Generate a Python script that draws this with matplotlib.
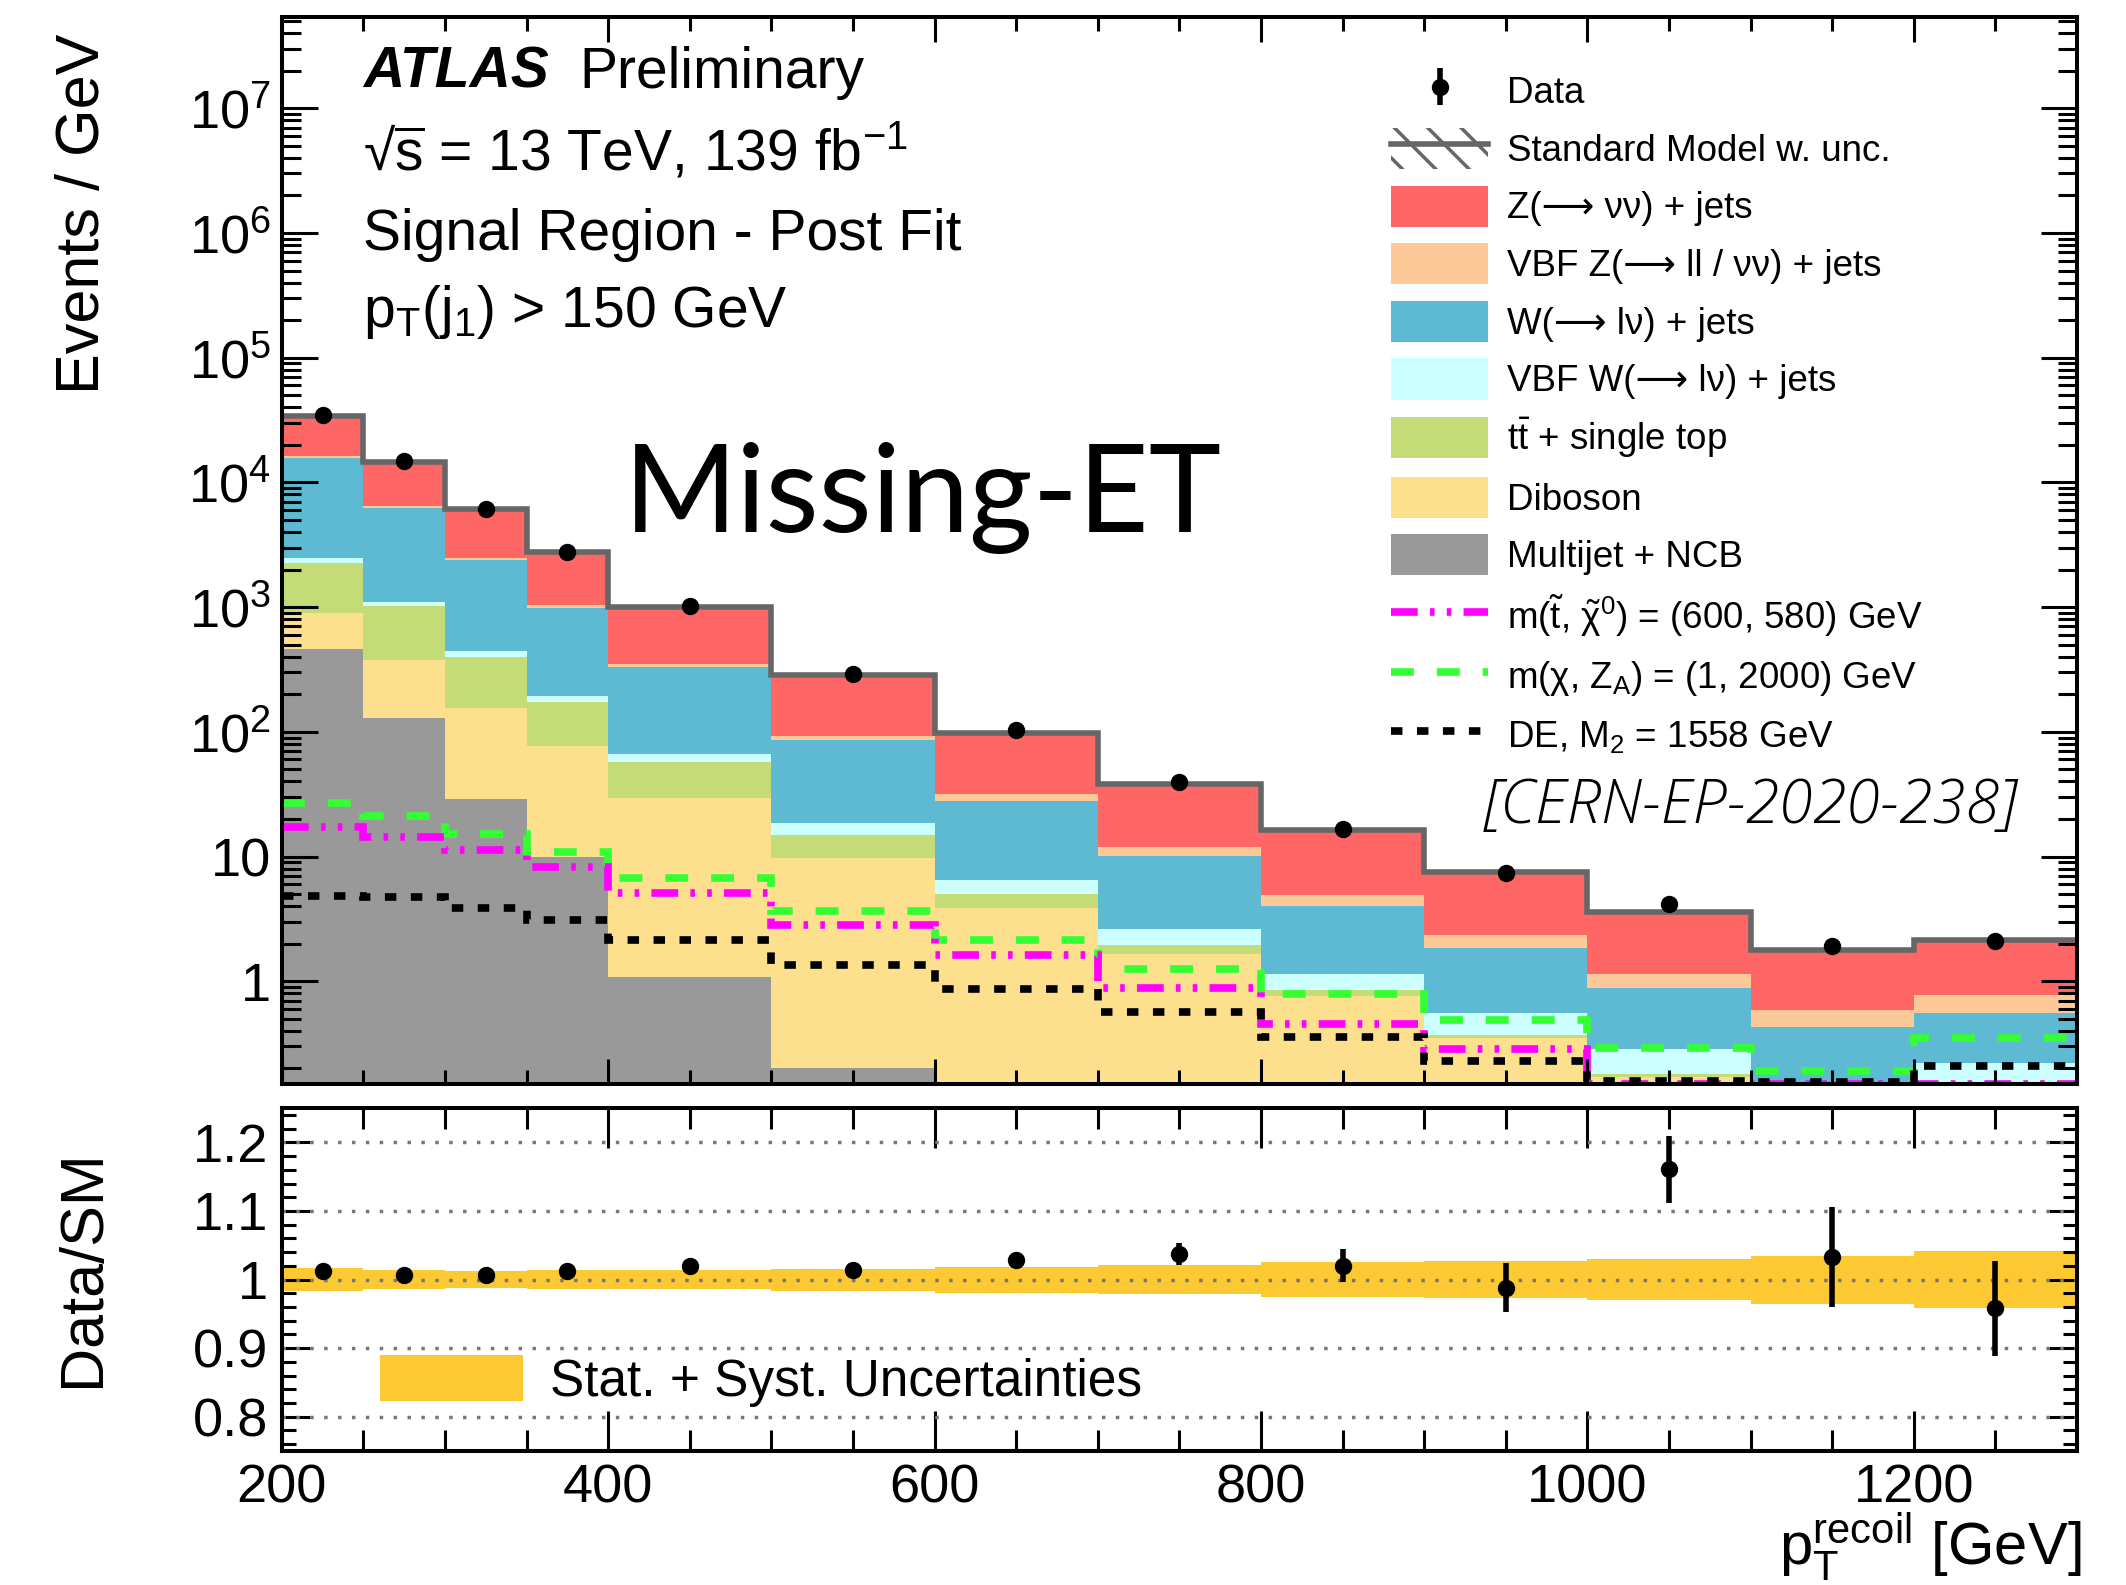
import numpy as np
import matplotlib
matplotlib.use('Agg')
import matplotlib.pyplot as plt
from matplotlib.patches import Patch
from matplotlib.lines import Line2D
from matplotlib.ticker import FixedLocator, MultipleLocator, FuncFormatter, LogLocator, NullFormatter

plt.rcParams['font.family'] = ['Liberation Sans', 'DejaVu Sans']
plt.rcParams['mathtext.fontset'] = 'custom'
plt.rcParams['mathtext.rm'] = 'Liberation Sans'
plt.rcParams['mathtext.it'] = 'Liberation Sans:italic'
plt.rcParams['mathtext.bf'] = 'Liberation Sans:bold'
plt.rcParams['hatch.linewidth'] = 2.5

# binning in recoil pT [GeV]
edges = [200, 250, 300, 350, 400, 500, 600, 700, 800, 900, 1000, 1100, 1200, 1300]

# post-fit background yields per GeV (bottom of stack first)
multijet = [463, 129, 29, 10, 1.09, 0.2, 0, 0, 0, 0, 0, 0, 0]
diboson = [433, 249, 126, 67, 28.4, 9.5, 3.84, 1.65, 0.757, 0.35, 0.17, 0.13, 0.12]
ttbar = [1374, 639, 246, 95, 27.5, 5.3, 1.16, 0.31, 0.093, 0.02, 0.01, 0.01, 0.015]
vbf_w = [200, 90, 43, 22, 9.0, 3.5, 1.45, 0.66, 0.30, 0.181, 0.106, 0.01, 0.086]
w_jets = [13230, 5093, 1936, 796, 267, 67.5, 21.25, 7.48, 2.86, 1.289, 0.599, 0.28, 0.336]
vbf_z = [500, 240, 90, 45, 20, 6.7, 3.8, 1.8, 0.93, 0.5, 0.265, 0.155, 0.223]
z_jets = [17900, 8060, 3690, 1715, 647, 193.3, 67.2, 26.2, 11.26, 5.23, 2.45, 1.205, 1.38]

data = [35000, 14800, 6170, 2760, 1017, 290, 103, 39.8, 16.7, 7.43, 4.2, 1.91, 2.09]

# signal benchmarks
sig_stop = [17.2, 14.3, 11.2, 8.2, 5.13, 2.85, 1.62, 0.89, 0.45, 0.285, 0.15, 0.15, 0.15]
sig_dm = [26.7, 21.1, 15.1, 10.9, 6.78, 3.68, 2.13, 1.26, 0.786, 0.485, 0.292, 0.19, 0.349]
sig_de = [4.79, 4.71, 3.88, 3.08, 2.16, 1.36, 0.86, 0.569, 0.36, 0.231, 0.158, 0.155, 0.21]

# lower panel
ratio = [1.012, 1.006, 1.006, 1.013, 1.020, 1.014, 1.028, 1.037, 1.020, 0.988, 1.161, 1.033, 0.958]
ratio_err = [0.001, 0.002, 0.003, 0.004, 0.003, 0.006, 0.010, 0.016, 0.024, 0.036, 0.049, 0.073, 0.069]
sm_unc = [0.0165, 0.014, 0.013, 0.014, 0.014, 0.016, 0.019, 0.021, 0.025, 0.027, 0.030, 0.035, 0.042]

ARROW = '\u27f6'
stack = [
    ("Multijet + NCB", multijet, '#999999'),
    ("Diboson", diboson, '#fde08e'),
    (r"t$\bar{\mathrm{t}}$ + single top", ttbar, '#c3dc78'),
    ("VBF W(" + ARROW + " lν) + jets", vbf_w, '#ccffff'),
    ("W(" + ARROW + " lν) + jets", w_jets, '#5dbad2'),
    ("VBF Z(" + ARROW + " ll / νν) + jets", vbf_z, '#fec998'),
    ("Z(" + ARROW + " νν) + jets", z_jets, '#ff6666'),
]

STOP_LS = (0, (3.5, 1.6, 0.6, 1.6, 0.6, 1.6))
DM_LS = (0, (3, 3))
DE_LS = (0, (1.5, 1.9))

edges = np.array(edges)
centers = 0.5 * (edges[1:] + edges[:-1])

fig = plt.figure(figsize=(21.26, 15.85), dpi=100)
ax = fig.add_axes([0.1326, 0.3161, 0.8443, 0.6732])
ax2 = fig.add_axes([0.1326, 0.0845, 0.8443, 0.2164])

# stacked backgrounds
base = np.full(len(data), 1e-3)
for label, vals, col in stack:
    top = base + np.array(vals)
    ax.stairs(top, edges, baseline=base, fill=True, color=col, lw=0)
    base = top
ax.stairs(base, edges, baseline=None, color='#666666', lw=4)

# signals
ax.stairs(sig_dm, edges, baseline=None, color='#33ff33', lw=5.5, linestyle=DM_LS)
ax.stairs(sig_stop, edges, baseline=None, color='#ff00ff', lw=5.5, linestyle=STOP_LS)
ax.stairs(sig_de, edges, baseline=None, color='black', lw=5.5, linestyle=DE_LS)

data_err = np.array(ratio_err) * np.array(data)
eb = ax.errorbar(centers, data, yerr=data_err, fmt='o', color='black', ms=11.5,
                 elinewidth=4, capsize=0)

ax.set_yscale('log')
ax.set_xlim(200, 1300)
ax.set_ylim(0.15, 5.4e7)

def dec_label(v, pos):
    if v <= 0:
        return ''
    n = int(round(np.log10(v)))
    if n == 0:
        return '1'
    if n == 1:
        return '10'
    return r'$10^{%d}$' % n

ax.yaxis.set_major_locator(FixedLocator([1, 10, 1e2, 1e3, 1e4, 1e5, 1e6, 1e7]))
ax.yaxis.set_minor_locator(LogLocator(base=10, subs=np.arange(2, 10), numticks=20))
ax.yaxis.set_major_formatter(FuncFormatter(dec_label))
ax.yaxis.set_minor_formatter(NullFormatter())
for a in (ax, ax2):
    a.xaxis.set_major_locator(MultipleLocator(200))
    a.xaxis.set_minor_locator(MultipleLocator(50))
    a.tick_params(which='both', direction='in', top=True, right=True, width=2.2,
                  labelsize=39)
    for s in a.spines.values():
        s.set_linewidth(2.9)
ax.tick_params(axis='x', which='major', length=18, labelbottom=False)
ax.tick_params(axis='x', which='minor', length=10)
ax.tick_params(axis='y', which='major', length=26, pad=8)
ax.tick_params(axis='y', which='minor', length=14)

# text labels
tr = ax.transAxes
ax.text(0.045, 0.9335, 'ATLAS', fontsize=41, fontweight='bold', fontstyle='italic',
        transform=tr, va='baseline')
ax.text(0.1655, 0.9335, 'Preliminary', fontsize=41, transform=tr, va='baseline')
ax.text(0.045, 0.8566, r'√$\overline{\mathrm{s}}$ = 13 TeV, 139 fb$^{\mathrm{-1}}$', fontsize=41,
        transform=tr, va='baseline')
ax.text(0.045, 0.7816, 'Signal Region - Post Fit', fontsize=41, transform=tr, va='baseline')
ax.text(0.045, 0.7095, r'p$_{\mathrm{T}}$(j$_{\mathrm{1}}$) > 150 GeV', fontsize=41,
        transform=tr, va='baseline')
ax.text(0.1905, 0.5173, 'Missing-ET', fontsize=88, family='Lato', fontweight='normal',
        transform=tr, va='baseline')
ax.text(0.670, 0.2446, '[CERN-EP-2020-238]', fontsize=44, family='Open Sans', fontweight=300,
        fontstyle='italic', color='black', transform=tr, va='baseline')

# legend
handles = [eb,
           (Patch(facecolor='none', edgecolor='#666666', hatch='\\', lw=0),
            Line2D([], [], color='#666666', lw=4))]
labels = ['Data', 'Standard Model w. unc.']
for label, vals, col in stack[::-1]:
    handles.append(Patch(facecolor=col, edgecolor='none'))
    labels.append(label)
handles += [Line2D([], [], color='#ff00ff', lw=5.5, linestyle=STOP_LS),
            Line2D([], [], color='#33ff33', lw=5.5, linestyle=DM_LS),
            Line2D([], [], color='black', lw=5.5, linestyle=DE_LS)]
labels += [r'm($\tilde{\mathrm{t}}$, $\tilde{\mathrm{\chi}}^{\mathrm{0}}$) = (600, 580) GeV',
           r'm(χ, Z$_{\mathrm{A}}$) = (1, 2000) GeV',
           r'DE, M$_{\mathrm{2}}$ = 1558 GeV']
ax.legend(handles, labels, loc='upper left', bbox_to_anchor=(0.618, 0.95), frameon=False,
          fontsize=26.5, handlelength=2.64, handleheight=1.34, labelspacing=0.45,
          handletextpad=0.5, borderpad=0, borderaxespad=0)

# ratio panel
ax2.stairs(1 + np.array(sm_unc), edges, baseline=1 - np.array(sm_unc), fill=True,
           color='#fdc933', lw=0)
for g in [0.8, 0.9, 1.0, 1.1, 1.2]:
    ax2.axhline(g, color='#777777', lw=2.5, linestyle=(0, (1, 3)))
ax2.errorbar(centers, ratio, yerr=ratio_err, fmt='o', color='black', ms=11.5,
             elinewidth=4, capsize=0)
ax2.set_xlim(200, 1300)
ax2.set_ylim(0.75, 1.25)
ax2.yaxis.set_major_locator(FixedLocator([0.8, 0.9, 1.0, 1.1, 1.2]))
ax2.yaxis.set_minor_locator(MultipleLocator(0.02))
ax2.yaxis.set_major_formatter(FuncFormatter(lambda v, p: '%g' % v))
ax2.tick_params(axis='x', which='major', length=29, pad=9)
ax2.tick_params(axis='x', which='minor', length=15)
ax2.tick_params(axis='y', which='major', length=20, pad=10)
ax2.tick_params(axis='y', which='minor', length=10)
ax2.legend([Patch(facecolor='#fdc933', edgecolor='none')], ['Stat. + Syst. Uncertainties'],
           loc='center left', bbox_to_anchor=(0.0546, 0.204), frameon=False, fontsize=37,
           handlelength=2.78, handleheight=1.0, handletextpad=0.53, borderpad=0,
           borderaxespad=0)

fig.text(0.0395, 0.9785, 'Events / GeV', rotation=90, fontsize=44, ha='center', va='top')
fig.text(0.0395, 0.2, 'Data/SM', rotation=90, fontsize=44, ha='center', va='center')
fig.text(0.979, 0.0125, r'p$_{\mathrm{T}}^{\mathrm{recoil}}$ [GeV]', fontsize=43,
         ha='right', va='baseline')

fig.savefig('out.png', dpi=100)
